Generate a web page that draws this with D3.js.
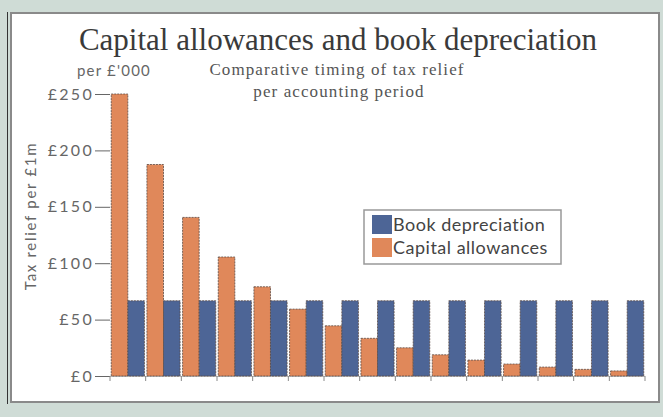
<!DOCTYPE html>
<html>
<head>
<meta charset="utf-8">
<script src="https://cdn.jsdelivr.net/npm/d3@7"></script>
<style>
  body { margin: 0; background: #cfdcd6; }
  svg { display: block; }
</style>
</head>
<body>
<div id="chart"></div>
<script>
// accounting periods 1..15
const periods = d3.range(1, 16).map(String);
const bookDepreciation = [66.7, 66.7, 66.7, 66.7, 66.7, 66.7, 66.7, 66.7, 66.7, 66.7, 66.7, 66.7, 66.7, 66.7, 66.7];
const capitalAllowances = [250, 187.5, 140.6, 105.5, 79.1, 59.3, 44.5, 33.4, 25.0, 18.8, 14.1, 10.6, 7.9, 5.9, 4.5];
const yTicks = [0, 50, 100, 150, 200, 250];
const seriesNames = ["Book depreciation", "Capital allowances"];

const colors = { "Book depreciation": "#4d6596", "Capital allowances": "#e0885a" };

const width = 663, height = 417;
const sans = "Lato, sans-serif";
const serif = "'Liberation Serif', serif";

const svg = d3.select("#chart").append("svg")
  .attr("width", width)
  .attr("height", height);

// outer frame
svg.append("rect").attr("width", width).attr("height", height).attr("fill", "#cfdcd6");
svg.append("line").attr("x1", 7.5).attr("x2", 7.5).attr("y1", 12).attr("y2", 404)
  .attr("stroke", "#333").attr("stroke-width", 1);

// white panel
svg.append("rect")
  .attr("x", 11).attr("y", 13)
  .attr("width", 648).attr("height", 389)
  .attr("fill", "#ffffff")
  .attr("stroke", "#8a8a8a").attr("stroke-width", 2);

const x = d3.scaleBand().domain(periods).range([110, 645]).paddingInner(0.07).paddingOuter(0.035);
const xs = d3.scaleBand().domain(["Capital allowances", "Book depreciation"]).range([0, x.bandwidth()]);
const y = d3.scaleLinear().domain([0, 250]).range([376, 94]);

// title
svg.append("text")
  .attr("x", 338).attr("y", 50)
  .attr("text-anchor", "middle")
  .style("font-family", serif)
  .style("font-size", "31px")
  .attr("fill", "#3a3a3a")
  .text("Capital allowances and book depreciation");

const sub = svg.append("text")
  .attr("text-anchor", "middle")
  .style("font-family", serif)
  .style("font-size", "17px")
  .style("letter-spacing", "1.1px")
  .attr("fill", "#555");
sub.append("tspan").attr("x", 337).attr("y", 75).text("Comparative timing of tax relief");
sub.append("tspan").attr("x", 339).attr("y", 97).text("per accounting period");

svg.append("text")
  .attr("x", 114).attr("y", 76)
  .attr("text-anchor", "middle")
  .style("font-family", sans)
  .style("font-size", "15px")
  .style("letter-spacing", "1.2px")
  .attr("fill", "#666")
  .text("per £'000");

// y axis
const yAxis = svg.append("g")
  .attr("transform", "translate(110,0)")
  .call(d3.axisLeft(y).tickValues(yTicks).tickSize(15).tickPadding(1).tickFormat(d => "£" + d));
yAxis.select(".domain").remove();
yAxis.selectAll("line").attr("stroke", "#666");
yAxis.selectAll("text")
  .style("font-family", sans)
  .style("font-size", "16px")
  .style("letter-spacing", "2.3px")
  .attr("fill", "#666");

svg.append("text")
  .attr("transform", "translate(36,216) rotate(-90)")
  .attr("text-anchor", "middle")
  .style("font-family", sans)
  .style("font-size", "15px")
  .style("letter-spacing", "1.7px")
  .attr("fill", "#666")
  .text("Tax relief per £1m");

// x axis ticks
const xTickPos = periods.map(p => x(p) - x.step() * x.paddingInner() / 2).concat([645]);
svg.append("line")
  .attr("x1", 110).attr("x2", 645).attr("y1", y(0) + 0.5).attr("y2", y(0) + 0.5)
  .attr("stroke", "#bbb");
svg.selectAll(".xtick").data(xTickPos).enter().append("line")
  .attr("class", "xtick")
  .attr("x1", d => d).attr("x2", d => d)
  .attr("y1", y(0)).attr("y2", y(0) + 5)
  .attr("stroke", "#888");

// bars
const rows = periods.map((p, i) => ({
  period: p,
  values: [
    { key: "Capital allowances", value: capitalAllowances[i] },
    { key: "Book depreciation", value: bookDepreciation[i] }
  ]
}));

const groups = svg.selectAll(".grp").data(rows).enter().append("g")
  .attr("class", "grp")
  .attr("transform", d => `translate(${x(d.period)},0)`);

groups.selectAll("rect").data(d => d.values).enter().append("rect")
  .attr("x", d => xs(d.key))
  .attr("y", d => y(d.value))
  .attr("width", xs.bandwidth())
  .attr("height", d => y(0) - y(d.value))
  .attr("fill", d => colors[d.key])
  .attr("stroke", "#5a4a44")
  .attr("stroke-width", 0.8)
  .attr("stroke-dasharray", "2,1");

// legend
const legend = svg.append("g").attr("transform", "translate(364,210)");
legend.append("rect")
  .attr("width", 197).attr("height", 54)
  .attr("fill", "#fff")
  .attr("stroke", "#999").attr("stroke-width", 1.5);
seriesNames.forEach((name, i) => {
  legend.append("rect")
    .attr("x", 8).attr("y", 5 + i * 23)
    .attr("width", 20).attr("height", 19)
    .attr("fill", colors[name]);
  legend.append("text")
    .attr("x", 29).attr("y", 21 + i * 23)
    .style("font-family", sans)
    .style("font-size", "18px")
    .style("letter-spacing", "0.5px")
    .attr("fill", "#444")
    .text(name);
});
</script>
</body>
</html>
